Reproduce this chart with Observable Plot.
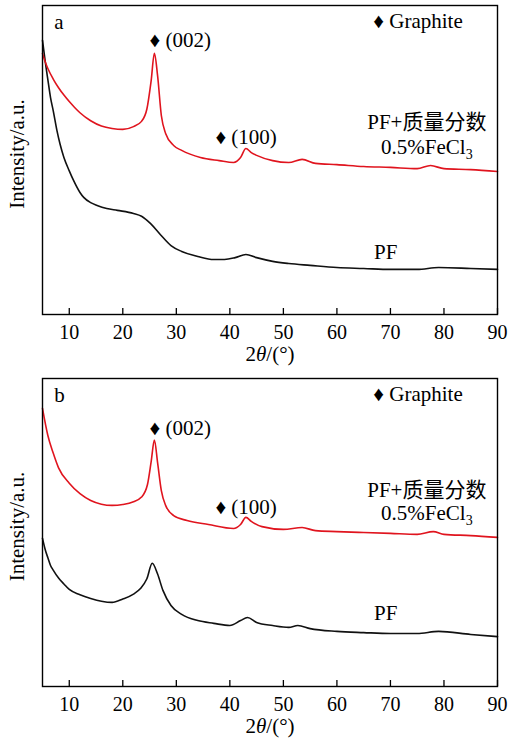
<!DOCTYPE html>
<html><head><meta charset="utf-8">
<script src="https://cdn.jsdelivr.net/npm/d3@7"></script>
<script src="https://cdn.jsdelivr.net/npm/@observablehq/plot@0.6"></script>
<style>
html,body{margin:0;padding:0;background:#fff}
#chart svg{display:block}
#chart svg, #chart svg text{font-family:"Liberation Serif","Times New Roman",Times,"Noto Sans CJK SC",serif !important}
</style>
</head><body><div id="chart"></div>
<script>
// ---- x ticks ----
const xTicks = [10, 20, 30, 40, 50, 60, 70, 80, 90];

// ---- Panel a: PF + 0.5% FeCl3 (red) ----
const thetaRedA = [5, 5.5, 6, 7, 8, 9, 10, 11, 12, 14, 16, 18, 20, 22, 23.5, 24.5, 25.3, 25.9, 26.5, 27.2, 28, 29.5, 31, 34.5, 38, 40.7, 42, 43, 44, 45, 48, 51, 53.5, 56, 60, 65, 70, 75, 77.5, 80, 85, 90];
const intRedA   = [84.5, 81.8, 79.6, 76.2, 73.4, 71.0, 68.9, 67.0, 65.3, 62.7, 61.0, 60.2, 59.9, 60.8, 62.5, 66.5, 75.7, 84.5, 77.3, 64.4, 58.6, 54.7, 53.1, 50.8, 49.8, 49.2, 50.8, 53.7, 52.4, 51.5, 49.8, 49.2, 50.2, 48.9, 48.5, 47.9, 47.6, 47.2, 48.2, 47.2, 46.9, 46.3];

// ---- Panel a: PF (black) ----
const thetaBlackA = [5, 5.5, 6, 6.5, 7, 7.7, 8.3, 9, 10, 10.8, 12, 12.7, 14, 15.2, 17, 19, 22, 23.5, 25.2, 27, 29, 31, 34, 37, 39, 41, 43, 45, 48, 51, 55, 60, 65, 70, 75, 79, 85, 90];
const intBlackA   = [88.7, 82.0, 76.0, 70.2, 66.0, 59.5, 55.0, 50.8, 46.5, 43.4, 39.5, 37.9, 36.2, 35.3, 34.3, 33.7, 32.7, 31.8, 29.4, 25.9, 22.3, 20.4, 18.8, 17.8, 17.8, 18.4, 19.4, 18.4, 17.2, 16.5, 15.9, 15.2, 14.9, 14.6, 14.6, 15.2, 14.9, 14.6];

// ---- Panel b: PF + 0.5% FeCl3 (red) ----
const thetaRedB = [5, 6, 7, 8, 10, 12, 14, 16, 18, 20, 22, 23.5, 24.6, 25.3, 25.9, 26.5, 27.2, 28, 29.5, 32, 36, 40.7, 42, 43, 44, 46, 50, 53.5, 56, 60, 65, 70, 75, 78, 80, 85, 90];
const intRedB   = [90.3, 81.5, 75.8, 71.0, 66.0, 62.6, 60.4, 59.2, 58.8, 59.1, 60.0, 61.5, 65.5, 73.0, 80.0, 72.7, 63.6, 58.8, 55.5, 53.9, 52.6, 51.3, 52.6, 54.9, 53.6, 51.9, 51.0, 51.6, 50.6, 50.3, 50.0, 49.7, 49.4, 50.3, 49.4, 49.0, 48.4];

// ---- Panel b: PF (black) ----
const thetaBlackB = [5, 5.5, 6, 6.5, 7, 8, 9, 10, 12, 14, 16, 18, 20, 22, 23.3, 24.5, 25.5, 26.5, 27.5, 29, 31, 34, 37, 40, 42, 43.3, 45, 48, 51, 52.7, 55, 60, 65, 70, 75, 79, 85, 90];
const intBlackB   = [48.1, 44.5, 41.8, 39.3, 37.8, 35.2, 33.3, 31.5, 29.8, 28.6, 27.7, 27.3, 28.4, 30.0, 31.8, 35.0, 40.0, 36.5, 31.2, 26.3, 23.4, 21.4, 20.5, 19.8, 21.4, 22.4, 20.8, 19.8, 19.2, 19.8, 18.8, 17.9, 17.5, 17.2, 17.2, 17.9, 16.9, 16.2];

// ---- Annotations (text, data coords) ----
const startLabels = ["♦ (002)", "♦ (100)", "♦ Graphite"];
const startLabelX = [25.0, 37.3, 66.8];
const startLabelYA = [88.7, 57.3, 94.8];
const startLabelYB = [83.8, 58.1, 94.8];
const sampleLabels = ["PF+质量分数", "0.5%FeCl3", "PF"];
const sampleLabelX = [76.8, 76.8, 69.1];
const sampleLabelYA = [62.1, 54.0, 20.1];
const sampleLabelYB = [63.6, 56.2, 23.7];
const panelLetters = ["a", "b"];

const FONT = "Liberation Serif, Times New Roman, Times, Noto Sans CJK SC, serif";
const zip = (t, v) => t.map((d, i) => ({t: d, i: v[i]}));
const lab = (txt, xs, ys) => txt.map((d, i) => ({text: d, x: xs[i], y: ys[i]}));

function panel(letter, red, black, startL, sampleL, height, marginTop) {
  const marginBottom = 56;
  const frameH = height - marginTop - marginBottom;
  const T = {fontSize: 21, fontFamily: FONT};
  const svg = Plot.plot({
    width: 510, height, marginTop, marginBottom, marginLeft: 42, marginRight: 13,
    style: {fontSize: "20px", background: "white", color: "black"},
    x: {domain: [5, 90]},
    y: {domain: [0, 100], axis: null},
    marks: [
      Plot.axisX({ticks: xTicks, tickSize: 0, tickPadding: 10, label: null, fontSize: 20, fontFamily: FONT, tickFormat: d => String(d)}),
      Plot.ruleX(xTicks, {x: d => d, insetTop: frameH - 6, stroke: "black", strokeWidth: 1.3}),
      Plot.line(black, {x: "t", y: "i", stroke: "#111", strokeWidth: 1.6, curve: "monotone-x"}),
      Plot.line(red, {x: "t", y: "i", stroke: "#e0141e", strokeWidth: 1.6, curve: "monotone-x"}),
      Plot.frame({stroke: "black", strokeWidth: 1.4}),
      Plot.text([letter], {x: 7.2, y: 94.5, text: d => d, textAnchor: "start", ...T}),
      Plot.text(startL, {x: "x", y: "y", text: "text", textAnchor: "start", ...T}),
      Plot.text(sampleL, {x: "x", y: "y", text: "text", textAnchor: "middle", ...T}),
      Plot.text(["Intensity/a.u."], {frameAnchor: "left", rotate: -90, dx: -25, dy: -6, textAnchor: "middle", lineAnchor: "middle", ...T}),
      Plot.text(["2θ/(°)"], {frameAnchor: "bottom", dy: 40, textAnchor: "middle", lineAnchor: "middle", ...T})
    ]
  });
  d3.select(svg).selectAll("text").each(function() {
    this.setAttribute("font-family", FONT);
    const s = this.textContent;
    if (s === "2θ/(°)") this.innerHTML = '2<tspan font-style="italic">θ</tspan>/(°)';
    else if (s === "0.5%FeCl3") this.innerHTML = '0.5%FeCl<tspan dy="5" font-size="14">3</tspan>';
  });
  return svg;
}

const root = document.getElementById("chart");
root.appendChild(panel(panelLetters[0], zip(thetaRedA, intRedA), zip(thetaBlackA, intBlackA),
  lab(startLabels, startLabelX, startLabelYA), lab(sampleLabels, sampleLabelX, sampleLabelYA), 370, 5));
root.appendChild(panel(panelLetters[1], zip(thetaRedB, intRedB), zip(thetaBlackB, intBlackB),
  lab(startLabels, startLabelX, startLabelYB), lab(sampleLabels, sampleLabelX, sampleLabelYB), 372, 8));
</script></body></html>
